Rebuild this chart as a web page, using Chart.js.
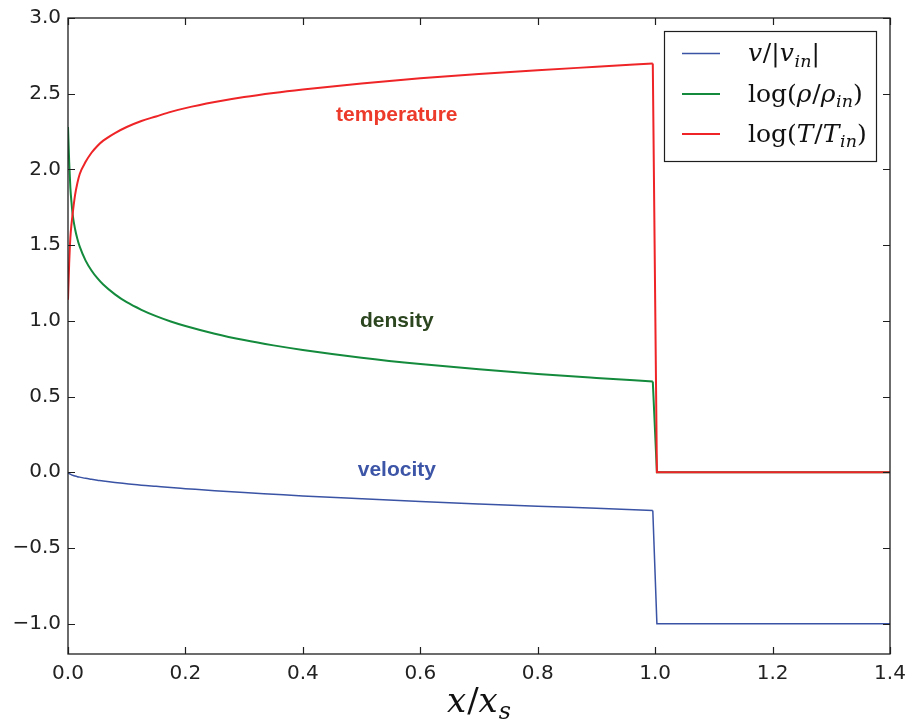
<!DOCTYPE html>
<html><head><meta charset="utf-8">
<script src="https://cdn.jsdelivr.net/npm/chart.js@4.4.1/dist/chart.umd.min.js"></script>
<style>html,body{margin:0;padding:0;background:#fff}#wrap{width:908px;height:724px}</style>
</head><body><div id="wrap"><canvas id="c" width="908" height="724"></canvas></div>
<script>
// ---- data ----
const xPositions  = [0, 0.002, 0.004, 0.006, 0.008, 0.012, 0.016, 0.02, 0.03, 0.04, 0.05, 0.06, 0.08, 0.1, 0.125, 0.15, 0.175, 0.2, 0.25, 0.3, 0.35, 0.4, 0.5, 0.6, 0.7, 0.8, 0.9, 0.996, 1.003, 1.4];
const velocity    = [-0.005, -0.009, -0.013, -0.017, -0.020, -0.025, -0.029, -0.032, -0.040, -0.046, -0.052, -0.058, -0.067, -0.075, -0.085, -0.093, -0.101, -0.108, -0.122, -0.134, -0.145, -0.156, -0.175, -0.193, -0.209, -0.224, -0.238, -0.252, -1, -1];
const density     = [2.28, 2.05, 1.88, 1.78, 1.70, 1.607, 1.541, 1.49, 1.398, 1.333, 1.282, 1.240, 1.175, 1.123, 1.073, 1.031, 0.996, 0.966, 0.915, 0.873, 0.838, 0.808, 0.757, 0.715, 0.680, 0.649, 0.623, 0.60, 0, 0];
const temperature = [1.14, 1.38, 1.55, 1.64, 1.71, 1.83, 1.91, 1.97, 2.05, 2.11, 2.155, 2.19, 2.24, 2.28, 2.32, 2.35, 2.38, 2.405, 2.445, 2.478, 2.505, 2.528, 2.568, 2.602, 2.63, 2.655, 2.678, 2.70, 0, 0];
const shockIndex  = 27; // last point before the jump
const xTickValues = [0, 0.2, 0.4, 0.6, 0.8, 1.0, 1.2, 1.4];
const yTickValues = [-1.0, -0.5, 0.0, 0.5, 1.0, 1.5, 2.0, 2.5, 3.0];
const annotationTexts = ['temperature', 'density', 'velocity'];
const annotationX = [0.56, 0.56, 0.56];
const annotationY = [2.36, 0.995, 0.015];

const COL_V = '#3a53a4', COL_D = '#138a3c', COL_T = '#ee2427';
const annotationColors = ['#ec3a2b', '#2c4620', '#3d55a6'];
const SERIF = '"DejaVu Serif", "Liberation Serif", serif';

const legendEntries = [
  {color: COL_V, width: 1.5, segs: [{t:'v',it:1},{t:'/|'},{t:'v',it:1},{t:'in',it:1,sub:1},{t:'|'}]},
  {color: COL_D, width: 2, segs: [{t:'log('},{t:'ρ',it:1},{t:'/'},{t:'ρ',it:1},{t:'in',it:1,sub:1},{t:')'}]},
  {color: COL_T, width: 2, segs: [{t:'log('},{t:'T',it:1},{t:'/'},{t:'T',it:1},{t:'in',it:1,sub:1},{t:')'}]}
];

function pts(ys, from, to){ return xPositions.slice(from, to).map((x,i)=>({x:x, y:ys[from + i]})); }

function drawRich(ctx, x, y, segs, size, family){
  let cx = x;
  segs.forEach(s=>{
    const sz = s.sub ? size*0.7 : size;
    ctx.font = (s.it ? 'italic ' : '') + sz + 'px ' + family;
    const dy = s.sub ? size*0.22 : 0;
    ctx.fillText(s.t, cx, y + dy);
    cx += ctx.measureText(s.t).width + (s.it && !s.sub ? size*0.03 : 0);
  });
  return cx - x;
}

const decor = {
  id: 'decor',
  afterDraw(chart){
    const ctx = chart.ctx, a = chart.chartArea;
    const xs = chart.scales.x, ys = chart.scales.y;
    ctx.save();
    ctx.strokeStyle = '#1e1e1e'; ctx.lineWidth = 1.3;
    ctx.strokeRect(a.left, a.top, a.right - a.left, a.bottom - a.top);
    ctx.lineWidth = 1.2;
    const L = 7;
    xTickValues.forEach(v=>{
      const p = Math.round(xs.getPixelForValue(v)) + 0.5;
      ctx.beginPath(); ctx.moveTo(p, a.bottom); ctx.lineTo(p, a.bottom - L);
      ctx.moveTo(p, a.top); ctx.lineTo(p, a.top + L); ctx.stroke();
    });
    yTickValues.forEach(v=>{
      const p = Math.round(ys.getPixelForValue(v)) + 0.5;
      ctx.beginPath(); ctx.moveTo(a.left, p); ctx.lineTo(a.left + L, p);
      ctx.moveTo(a.right, p); ctx.lineTo(a.right - L, p); ctx.stroke();
    });
    ctx.font = 'bold 21px "Liberation Sans", Arial, sans-serif';
    ctx.textAlign = 'center'; ctx.textBaseline = 'middle';
    annotationTexts.forEach((t,i)=>{
      ctx.fillStyle = annotationColors[i];
      ctx.fillText(t, xs.getPixelForValue(annotationX[i]), ys.getPixelForValue(annotationY[i]));
    });
    const bx = 664.5, by = 31.5, bw = 212, bh = 130;
    ctx.fillStyle = '#fff'; ctx.fillRect(bx, by, bw, bh);
    ctx.strokeStyle = '#1e1e1e'; ctx.lineWidth = 1.2; ctx.strokeRect(bx, by, bw, bh);
    ctx.textAlign = 'left'; ctx.textBaseline = 'alphabetic';
    const rows = [53.5, 94, 134];
    legendEntries.forEach((e,i)=>{
      ctx.strokeStyle = e.color; ctx.lineWidth = e.width;
      ctx.beginPath(); ctx.moveTo(682, rows[i]); ctx.lineTo(720, rows[i]); ctx.stroke();
      ctx.fillStyle = '#111';
      drawRich(ctx, 748, rows[i] + 7.5, e.segs, 25, SERIF);
    });
    ctx.fillStyle = '#111';
    const title = [{t:'x',it:1},{t:'/'},{t:'x',it:1},{t:'s',it:1,sub:1}];
    const cx = (a.left + a.right)/2;
    ctx.globalAlpha = 0;
    const w = drawRich(ctx, 0, -100, title, 34, SERIF);
    ctx.globalAlpha = 1;
    drawRich(ctx, cx - w/2, 712, title, 34, SERIF);
    ctx.restore();
  }
};

const smooth = {showLine: true, pointRadius: 0, pointHoverRadius: 0, fill: false, cubicInterpolationMode: 'monotone'};
const straight = {showLine: true, pointRadius: 0, pointHoverRadius: 0, fill: false, tension: 0};
const tickFont = {family: '"DejaVu Sans", sans-serif', size: 20};
const N = xPositions.length;
new Chart(document.getElementById('c'), {
  type: 'scatter',
  data: {
    datasets: [
      Object.assign({label: 'velocity', data: pts(velocity, 0, shockIndex + 1), borderColor: COL_V, borderWidth: 1.5, order: 2}, smooth),
      Object.assign({label: 'velocity jump', data: pts(velocity, shockIndex, N), borderColor: COL_V, borderWidth: 1.5, order: 2}, straight),
      Object.assign({label: 'density', data: pts(density, 0, shockIndex + 1), borderColor: COL_D, borderWidth: 2, order: 1}, smooth),
      Object.assign({label: 'density jump', data: pts(density, shockIndex, N), borderColor: COL_D, borderWidth: 2, order: 1}, straight),
      Object.assign({label: 'temperature', data: pts(temperature, 0, shockIndex + 1), borderColor: COL_T, borderWidth: 2, order: 0}, smooth),
      Object.assign({label: 'temperature jump', data: pts(temperature, shockIndex, N), borderColor: COL_T, borderWidth: 2, order: 0}, straight)
    ]
  },
  options: {
    responsive: false, animation: false, devicePixelRatio: 1,
    layout: {padding: {top: 18, right: 18, left: 0, bottom: 0}},
    plugins: {legend: {display: false}, tooltip: {enabled: false}},
    scales: {
      x: {
        type: 'linear', min: 0, max: 1.4,
        afterBuildTicks: s => { s.ticks = xTickValues.map(v=>({value: v})); },
        afterFit: s => { s.height = 70; s.paddingLeft = 0; s.paddingRight = 0; },
        ticks: {font: tickFont, color: '#222', padding: 8, maxRotation: 0, autoSkip: false, callback: v => Number(v).toFixed(1)},
        grid: {display: false, drawTicks: false}, border: {display: false}
      },
      y: {
        type: 'linear', min: -1.2, max: 3.0,
        afterBuildTicks: s => { s.ticks = yTickValues.map(v=>({value: v})); },
        afterFit: s => { s.width = 68; s.paddingTop = 0; s.paddingBottom = 0; },
        ticks: {font: tickFont, color: '#222', padding: 7, autoSkip: false, callback: v => (v < 0 ? '\u2212' : '') + Math.abs(v).toFixed(1)},
        grid: {display: false, drawTicks: false}, border: {display: false}
      }
    }
  },
  plugins: [decor]
});
</script></body></html>
